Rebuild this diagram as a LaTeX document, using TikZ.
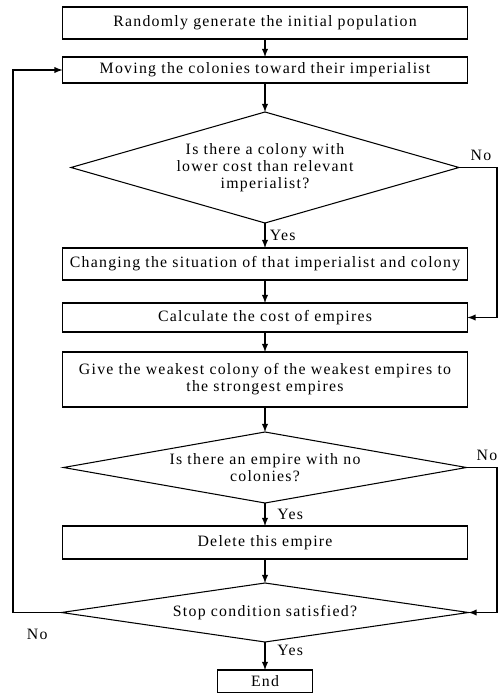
\documentclass[tikz,border=0pt]{standalone}
\usepackage{fontspec}
\setmainfont{Liberation Serif}[LetterSpace=8]
\usetikzlibrary{shapes.geometric, arrows}
\usetikzlibrary{positioning}
\tikzset{
  pr/.style={rectangle, minimum width=8.1cm, inner sep=0pt, outer sep=0pt, text centered, draw=black, align=center},
  cn/.style={diamond, inner sep=0pt, outer sep=0pt, text centered, draw=black, align=center},
  ed/.style={rectangle, minimum width=1.9cm, minimum height=4.6mm, inner sep=0pt, outer sep=0pt, text centered, draw=black},
  lb/.style={inner sep=2.5pt}
}

\begin{document}
\begin{tikzpicture}[line width=0.6pt, >=latex, font=\fontsize{9pt}{9.6pt}\selectfont]
	\useasboundingbox (0,0) rectangle (10,-13.86);
	\coordinate (lline) at (0.26,0);
	\coordinate (rline) at (9.94,0);
	\node[pr, minimum height=6.4mm] (init) at (5.3,-0.46) {Randomly generate the initial population};
	\node[pr, minimum height=5.2mm, below=3.6mm of init] (move) {Moving the colonies toward their imperialist};
	\node[cn, minimum width=7.76cm, minimum height=22.2mm, shape aspect=3.5, below=5.8mm of move] (condcol) {Is there a colony with\\lower cost than relevant\\imperialist?};
	\node[pr, minimum height=6.4mm, below=5mm of condcol] (change) {Changing the situation of that imperialist and colony};
	\node[pr, minimum height=5.8mm, below=4.6mm of change] (cost) {Calculate the cost of empires};
	\node[pr, minimum height=11mm, below=4mm of cost] (give) {Give the weakest colony of the weakest empires to\\the strongest empires};
	\node[cn, minimum width=8.06cm, minimum height=14.2mm, shape aspect=5.7, below=5mm of give] (condemp) {Is there an empire with no\\colonies?};
	\node[pr, minimum height=6.6mm, below=4.6mm of condemp] (del) {Delete this empire};
	\node[cn, minimum width=8.14cm, minimum height=11.8mm, shape aspect=6.9, below=4.8mm of del] (condstop) {Stop condition satisfied?};
	\node[ed, below=5.6mm of condstop] (end) {End};
	%
	\draw[->] (init) -- (move);
	\draw[->] (move) -- (condcol);
	\draw[->] (condcol) -- node[right, lb] {Yes} (change);
	\draw[->] (change) -- (cost);
	\draw[->] (cost) -- (give);
	\draw[->] (give) -- (condemp);
	\draw[->] (condemp) -- node[right, lb, xshift=1.5mm] {Yes} (del);
	\draw[->] (del) -- (condstop);
	\draw[->] (condstop) -- node[right, lb, xshift=1.5mm, pos=0.3] {Yes} (end);
	\draw[->] (condcol.east) -- (condcol.east -| rline) node[above, xshift=-3.2mm] {No} |- (cost.east);
	\draw[->] (condemp.east) -- (condemp.east -| rline) node[above, xshift=-2mm] {No} |- (condstop.east);
	\draw[->] (condstop.west) -- node[below, yshift=-2mm] {No} (condstop.west -| lline) |- (move.west);
\end{tikzpicture}
\end{document}
